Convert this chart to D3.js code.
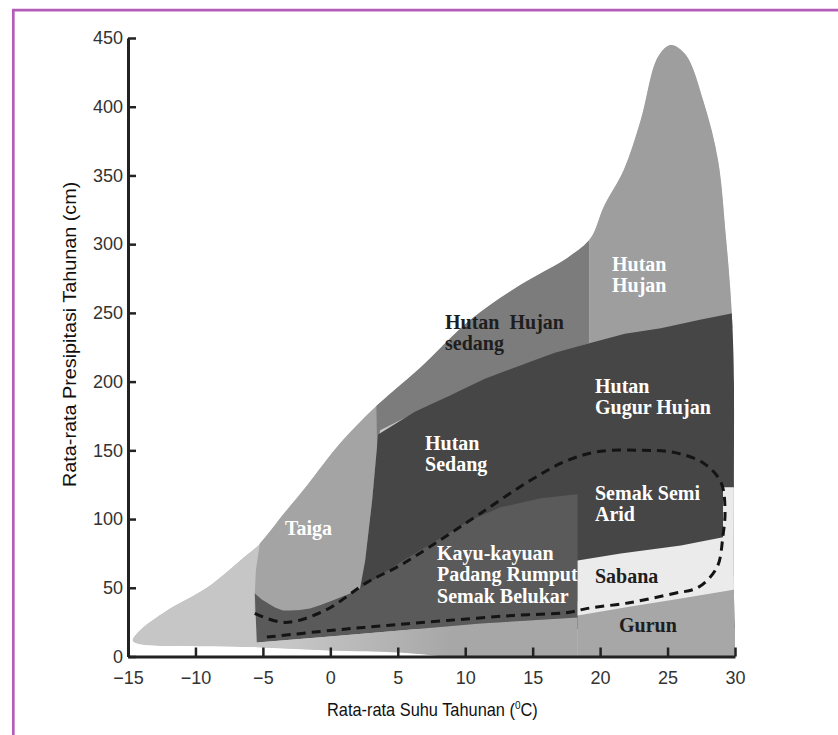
<!DOCTYPE html>
<html>
<head>
<meta charset="utf-8">
<script src="https://cdnjs.cloudflare.com/ajax/libs/d3/7.8.5/d3.min.js"></script>
<style>
  body { margin: 0; background: #fff; }
  svg { display: block; }
  .axis text { font-family: "Liberation Sans", Arial, sans-serif; font-size: 18px; fill: #333; }
  .title { font-family: "Liberation Sans", Arial, sans-serif; font-size: 18px; fill: #111; }
  .biome { font-family: "Liberation Serif", "Times New Roman", serif; font-weight: bold; font-size: 20px; white-space: pre; }
</style>
</head>
<body>
<svg id="chart" width="838" height="735"></svg>
<script>
// axis ticks
var xTicks = [-15, -10, -5, 0, 5, 10, 15, 20, 25, 30];
var yTicks = [0, 50, 100, 150, 200, 250, 300, 350, 400, 450];

// outlines, [suhu (C), presipitasi (cm)]
var envelope = [
  [-14.67, 11.7], [-14.15, 18.9], [-12.14, 33.5], [-9.17, 50.2], [-6.71, 69.9], [-5.23, 82.3],
  [-3.37, 104.9], [-1.73, 124.5], [0.72, 155.1], [3.47, 182.8], [6.66, 210.1], [10.38, 245],
  [14.10, 270.5], [17.59, 290.2], [19.30, 304.4], [20.26, 327], [21.75, 353.9], [23.01, 390.3],
  [24.28, 436.2], [25.24, 444.9], [26.36, 437.6], [27.70, 402.7], [28.74, 361.2], [29.33, 305.1],
  [29.70, 260], [29.85, 230], [29.92, 200], [29.92, 123], [29.92, 50], [29.96, 25], [30, 0],
  [27, 0], [20, 0], [14, 0], [8.89, 0],
  [5.18, 2.9], [-0.03, 4.4], [-5.08, 6.6], [-9.69, 7.3], [-13.40, 8], [-14.37, 9.5]
];
var taiga = [
  [-5.60, 45.9], [-5.52, 62.6], [-5.23, 82.3], [-6.5, 130], [4, 230], [3.54, 160.9],
  [3.10, 113.6], [2.58, 69.9], [2.20, 49.5], [2.2, 30], [-5.6, 30]
];
var hutanHujanSedang = [
  [3.47, 150], [3.40, 190], [3.0, 260], [19.2, 340], [19.2, 227.9], [14.10, 211.9], [8.89, 190], [3.69, 164.6]
];
var hutanHujan = [
  [19.2, 220], [19.2, 340], [24, 480], [31, 480], [31, 240], [24.5, 235]
];
var hutanGelap = [
  [3.54, 161.5], [6.27, 178], [8.89, 190], [11.46, 202.1], [14.10, 211.9], [16.65, 221],
  [19.2, 227.9], [21.84, 234.8], [24.50, 238.8], [27.4, 245], [29.92, 250], [31, 252],
  [31, 20], [2.2, 20], [2.20, 49.5], [2.58, 69.9], [3.10, 113.6]
];
var kayuKayuan = [
  [2.20, 49.5], [1.46, 45.9], [0.72, 43], [-0.03, 40.1], [-0.77, 37.2], [-1.51, 35],
  [-2.25, 33.9], [-3.0, 33.4], [-3.52, 33.5], [-4.1, 35.7], [-4.6, 38.6], [-5.08, 41.5],
  [-5.60, 45.9], [-5.45, 10.2], [-0.03, 14.6], [5.18, 18.9], [11.12, 24], [18.33, 28.4],
  [18.33, 118], [15.58, 115.1], [12.61, 108.5], [10.38, 99.1], [8.15, 86], [6.66, 77.3],
  [5.18, 68.5], [3.69, 59]
];
var padangBawah = [
  [-5.45, 10.2], [-0.03, 14.6], [5.18, 18.9], [11.12, 24], [18.33, 28.4], [18.33, -5], [-5.6, -5]
];
var gurun = [[18.33, 40], [31, 60], [31, -5], [18.33, -5]];
var sabana = [
  [18.33, 69.9], [21.53, 75], [25.99, 80.8], [29.11, 86.7], [29.11, 123.1], [30.5, 123.1],
  [30.5, 49.5], [25.99, 42.2], [22.27, 36.4], [18.33, 29.9]
];
// dashed boundary
var garisPutus = [
  [-5.60, 31.3], [-3.37, 24.8], [-0.40, 33.5], [2.72, 53.9], [5.18, 66.3], [8.15, 84.8],
  [11.12, 104.1], [14.84, 128.2], [17.59, 142.7], [20.04, 149.3], [23.01, 150], [25.47, 148.5],
  [27.70, 140.5], [28.96, 126.7], [29.26, 106.3], [29.11, 88.1], [28.66, 64.8], [27.25, 50.2],
  [25.47, 45.9], [22.27, 39.3], [19.07, 35], [17.59, 32], [13.57, 29.9], [8.67, 26.2],
  [4.21, 22.6], [-0.03, 18.9], [-5.00, 13.8]
];

// labels: lines and anchor (suhu, presipitasi) of first baseline
var labelLines = [
  ["Hutan  Hujan", "sedang"],
  ["Hutan", "Hujan"],
  ["Hutan", "Gugur Hujan"],
  ["Hutan", "Sedang"],
  ["Semak Semi", "Arid"],
  ["Kayu-kayuan", "Padang Rumput", "Semak Belukar"],
  ["Sabana"],
  ["Gurun"],
  ["Taiga"]
];
var labelAt = [
  [8.5, 238.5], [20.88, 280.7], [19.62, 191.9], [7.02, 150.4], [19.62, 114],
  [7.91, 70.3], [19.62, 53.5], [21.4, 17.8], [-3.36, 88.5]
];

var svg = d3.select("#chart");

// frame
svg.append("line").attr("x1", 12).attr("x2", 838).attr("y1", 10.2).attr("y2", 10.2)
  .attr("stroke", "#b35db8").attr("stroke-width", 2.7);
svg.append("line").attr("x1", 13.3).attr("x2", 13.3).attr("y1", 9).attr("y2", 735)
  .attr("stroke", "#b35db8").attr("stroke-width", 2.7);

var x = d3.scaleLinear().domain([-15, 30]).range([128, 735]);
var y = d3.scaleLinear().domain([0, 450]).range([656.5, 38]);

var smooth = d3.line().x(d => x(d[0])).y(d => y(d[1])).curve(d3.curveCatmullRomClosed.alpha(0.5));
var poly = d3.line().x(d => x(d[0])).y(d => y(d[1])).curve(d3.curveLinearClosed);
var open = d3.line().x(d => x(d[0])).y(d => y(d[1])).curve(d3.curveCatmullRom.alpha(0.5));

var defs = svg.append("defs");
defs.append("clipPath").attr("id", "outline").append("path").attr("d", smooth(envelope));
defs.append("clipPath").attr("id", "plotArea").append("rect")
  .attr("x", x(-15)).attr("y", 0).attr("width", x(30) - x(-15)).attr("height", y(0));

var grad = defs.append("linearGradient").attr("id", "bandGrad")
  .attr("gradientUnits", "userSpaceOnUse")
  .attr("x1", x(-3)).attr("x2", x(9)).attr("y1", 0).attr("y2", 0);
grad.append("stop").attr("offset", 0).attr("stop-color", "#c6c6c6");
grad.append("stop").attr("offset", 1).attr("stop-color", "#a7a7a7");

var g = svg.append("g").attr("clip-path", "url(#plotArea)")
  .append("g").attr("clip-path", "url(#outline)");

g.append("path").attr("d", smooth(envelope)).attr("fill", "#c6c6c6");

var regions = [
  [taiga, "#a4a4a4"],
  [hutanHujanSedang, "#7c7c7c"],
  [hutanHujan, "#9e9e9e"],
  [hutanGelap, "#464646"],
  [kayuKayuan, "#5a5a5a"],
  [padangBawah, "url(#bandGrad)"],
  [gurun, "#a7a7a7"],
  [sabana, "#ebebeb"]
];
g.selectAll("path.region")
  .data(regions).enter().append("path")
  .attr("class", "region")
  .attr("d", d => poly(d[0]))
  .attr("fill", d => d[1]);

g.append("path")
  .attr("d", open(garisPutus))
  .attr("fill", "none")
  .attr("stroke", "#141414")
  .attr("stroke-width", 3)
  .attr("stroke-dasharray", "9,6");

// biome labels
var darkText = [0, 6, 7];
svg.selectAll("text.biome")
  .data(labelLines).enter().append("text")
  .attr("class", "biome")
  .attr("fill", (d, i) => darkText.indexOf(i) >= 0 ? "#1e1e1e" : "#ffffff")
  .attr("transform", (d, i) => "translate(" + x(labelAt[i][0]) + "," + y(labelAt[i][1]) + ")")
  .each(function(d) {
    d3.select(this).selectAll("tspan").data(d).enter().append("tspan")
      .attr("x", 0).attr("y", (s, j) => j * 21.5)
      .text(s => s);
  });

// axes
var yAxis = d3.axisLeft(y).tickValues(yTicks).tickSize(-8).tickSizeOuter(0).tickPadding(5);
var xAxis = d3.axisBottom(x).tickValues(xTicks).tickSize(-9).tickSizeOuter(0).tickPadding(14.5);

var ya = svg.append("g").attr("class", "axis").attr("transform", "translate(" + x(-15) + ",0)").call(yAxis);
var xa = svg.append("g").attr("class", "axis").attr("transform", "translate(0," + y(0) + ")").call(xAxis);
[ya, xa].forEach(function(a) {
  a.select(".domain").attr("stroke", "#222").attr("stroke-width", 3);
  a.selectAll(".tick line").attr("stroke", "#222").attr("stroke-width", 2.5);
});

// axis titles (the original face is condensed, so squeeze along the text)
var xt = svg.append("text").attr("class", "title")
  .attr("transform", "translate(327,716) scale(0.91,1)")
  .text("Rata-rata Suhu Tahunan (");
xt.append("tspan").attr("font-size", 11).attr("dy", -7).text("0");
xt.append("tspan").attr("dy", 7).text("C)");

svg.append("text").attr("class", "title")
  .attr("transform", "translate(76,487) rotate(-90) scale(1.1,1)")
  .attr("font-size", 19)
  .text("Rata-rata Presipitasi Tahunan (cm)");
</script>
</body>
</html>
